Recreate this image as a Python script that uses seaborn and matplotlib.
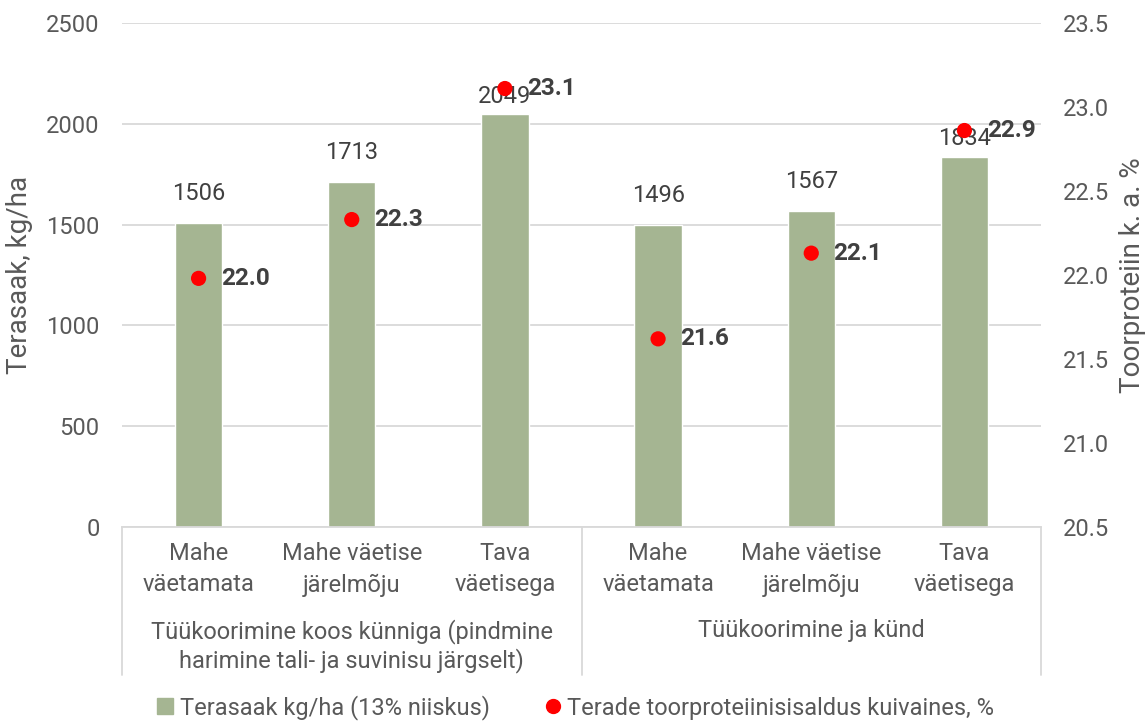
import matplotlib
matplotlib.use("Agg")
import matplotlib.pyplot as plt
import matplotlib.transforms as mtransforms
from matplotlib.lines import Line2D
import numpy as np
import pandas as pd
import seaborn as sns

# ---- data ----
groups = ["Tüükoorimine koos künniga (pindmine\nharimine tali- ja suvinisu järgselt)",
          "Tüükoorimine ja künd"]
subcats = ["Mahe\nväetamata", "Mahe väetise\njärelmõju", "Tava\nväetisega"]
yield_kg = [1506, 1713, 2049, 1496, 1567, 1834]
protein = [21.98, 22.33, 23.11, 21.62, 22.13, 22.86]
yield_label = "Terasaak kg/ha (13% niiskus)"
protein_label = "Terade toorproteiinisisaldus kuivaines, %"
left_ticks = [0, 500, 1000, 1500, 2000, 2500]
right_ticks = [20.5, 21.0, 21.5, 22.0, 22.5, 23.0, 23.5]

# label placement (style): gap above bars, in points
bar_label_gap = [13, 13, 4, 13, 13, 5]

sns.set_theme(style="white")
plt.rcParams["font.family"] = ["Roboto", "DejaVu Sans"]

TXT = "#595959"
DARK = "#404040"
GRID = "#D9D9D9"
BAR = "#A5B592"
FS = 17

n_sub = len(subcats)
keys = [f"{g}-{s}" for g in range(len(groups)) for s in range(n_sub)]
df = pd.DataFrame({"key": keys, "yield": yield_kg, "protein": protein})
df["pos"] = np.arange(len(df))

fig = plt.figure(figsize=(11.48, 7.24), dpi=100)
ax = fig.add_axes([122 / 1148, 1 - 527 / 724, (1041 - 122) / 1148, (527 - 23) / 724])

sns.barplot(data=df, x="key", y="yield", order=keys, color=BAR, width=0.31,
            saturation=1, ax=ax, zorder=2)
ax.set_xlim(-0.5, len(df) - 0.5)
ax.set_ylim(left_ticks[0], left_ticks[-1])
ax.set_yticks(left_ticks)
ax.set_yticklabels([str(t) for t in left_ticks], color=TXT, fontsize=FS)
ax.yaxis.grid(True, color=GRID, linewidth=1.3, zorder=0)
ax.set_axisbelow(True)
for s in ["top", "right", "left"]:
    ax.spines[s].set_visible(False)
ax.spines["bottom"].set_color(GRID)
ax.spines["bottom"].set_linewidth(1.3)
ax.tick_params(axis="both", length=0)
ax.tick_params(axis="y", pad=16)
ax.set_xticks(df["pos"])
ax.set_xticklabels(subcats * len(groups), color=TXT, fontsize=FS, linespacing=1.45)
ax.tick_params(axis="x", pad=11)
ax.set_xlabel("")
ax.set_ylabel("Terasaak, kg/ha", color=TXT, fontsize=20)
ax.yaxis.set_label_coords(-0.097, 0.5)

for x, v, gap in zip(df["pos"], df["yield"], bar_label_gap):
    ax.annotate(f"{v}", (x, v), xytext=(0, gap), textcoords="offset points",
                ha="center", va="bottom", color=DARK, fontsize=FS)

# group labels and separators
trans = mtransforms.blended_transform_factory(ax.transData, ax.transAxes)
for gi, g in enumerate(groups):
    center = gi * n_sub + (n_sub - 1) / 2
    ax.text(center, -0.183, g, transform=trans, ha="center", va="top",
            color=TXT, fontsize=FS, linespacing=1.2)
for b in range(len(groups) + 1):
    xb = b * n_sub - 0.5
    ax.add_line(Line2D([xb, xb], [0, -0.294], transform=trans, color=GRID,
                       linewidth=1.3, clip_on=False))

ax2 = ax.twinx()
sns.scatterplot(x=df["pos"], y=df["protein"], ax=ax2, color="#FF0000", s=120,
                edgecolor="none", zorder=3, legend=False)
ax2.set_ylim(right_ticks[0], right_ticks[-1])
ax2.set_yticks(right_ticks)
ax2.set_yticklabels([f"{t:.1f}" for t in right_ticks], color=TXT, fontsize=FS)
ax2.tick_params(axis="y", length=0, pad=16)
for s in ["top", "right", "left", "bottom"]:
    ax2.spines[s].set_visible(False)
ax2.set_ylabel("Toorproteiin k. a. %", color=TXT, fontsize=20)
ax2.yaxis.set_label_coords(1.085, 0.5)
ax2.set_xlabel("")
for x, v in zip(df["pos"], df["protein"]):
    ax2.annotate(f"{v:.1f}", (x, v), xytext=(16, 0), textcoords="offset points",
                 ha="left", va="center", color=DARK, fontsize=17.5, fontweight="bold")

handles = [Line2D([], [], marker="s", linestyle="none", color=BAR, markersize=11),
           Line2D([], [], marker="o", linestyle="none", color="#FF0000", markersize=10)]
fig.legend(handles, [yield_label, protein_label], loc="lower center",
           bbox_to_anchor=(0.5, -0.024), ncol=2, frameon=False, fontsize=FS,
           labelcolor=TXT, handletextpad=0.1, columnspacing=2.2, handlelength=1.0)

fig.savefig("out.png", dpi=100)
